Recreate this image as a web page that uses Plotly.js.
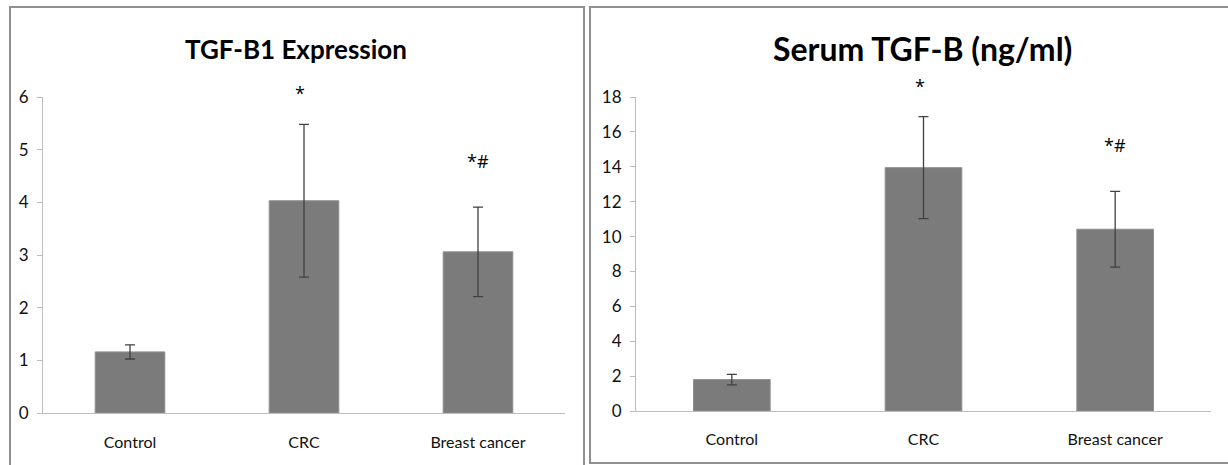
<!DOCTYPE html>
<html>
<head>
<meta charset="utf-8">
<script src="https://cdn.plot.ly/plotly-3.0.1.min.js"></script>
<style>
html,body{margin:0;padding:0;background:#fff;}
#chart{width:1228px;height:465px;}
</style>
</head>
<body>
<div id="chart"></div>
<script>
// ---- data ----
const categories = ['Control', 'CRC', 'Breast cancer'];
const tgfB1Means = [1.16, 4.03, 3.06];
const tgfB1Errors = [0.135, 1.45, 0.85];
const serumMeans = [1.8, 13.95, 10.42];
const serumErrors = [0.3, 2.92, 2.17];
const significance = ['', '*', '*#'];
const tgfB1Ticks = [0, 1, 2, 3, 4, 5, 6];
const serumTicks = [0, 2, 4, 6, 8, 10, 12, 14, 16, 18];
const titles = ['TGF-B1 Expression', 'Serum TGF-B (ng/ml)'];

// ---- layout helpers ----
const W = 1228, H = 465;
const px = x => x / W;
const py = y => (H - y) / H;
const FONT = 'Lato, "Open Sans", Arial, sans-serif';
const SIGFONT = '"Open Sans", Arial, sans-serif';
const barColor = '#7b7b7b';
const errColor = '#404040';
const textColor = '#111';

function barTrace(means, errs, xa, ya) {
  return {
    type: 'bar', x: categories, y: means, xaxis: xa, yaxis: ya,
    marker: {color: barColor, line: {color: '#8e8e8e', width: 1}},
    error_y: {type: 'data', array: errs, visible: true, color: errColor, thickness: 1.3, width: 5},
    hoverinfo: 'skip', showlegend: false
  };
}

const data = [
  barTrace(tgfB1Means, tgfB1Errors, 'x', 'y'),
  barTrace(serumMeans, serumErrors, 'x2', 'y2')
];

function sigAnnotations(means, errs, xref, yref) {
  const out = [];
  significance.forEach((s, i) => {
    if (!s) return;
    out.push({
      xref: xref, yref: yref, x: categories[i], y: means[i] + errs[i],
      text: s, showarrow: false, yanchor: 'middle',
      yshift: s === '*' ? 31 : 46, xshift: s === '*' ? -4 : 0,
      font: {family: SIGFONT, size: 18, color: '#000'}
    });
  });
  return out;
}

const axisCommon = {
  showgrid: false, zeroline: false, showline: true, linecolor: '#bdbdbd', linewidth: 1,
  fixedrange: true
};

const xTickFont = {family: FONT, size: 16, color: textColor};
const yTickFont = {family: FONT, size: 17, color: textColor};

const layout = {
  width: W, height: H,
  margin: {l: 0, r: 0, t: 0, b: 0},
  paper_bgcolor: '#fff', plot_bgcolor: 'rgba(0,0,0,0)',
  bargap: 0.6,
  font: {family: FONT, color: textColor},
  xaxis: Object.assign({}, axisCommon, {
    domain: [px(43), px(565)], anchor: 'y', ticks: '',
    tickfont: xTickFont, ticklabelstandoff: 15
  }),
  yaxis: Object.assign({}, axisCommon, {
    domain: [py(413), py(97)], anchor: 'x', range: [0, 6],
    tickvals: tgfB1Ticks, ticks: 'outside', ticklen: 5, tickcolor: '#bdbdbd',
    tickfont: yTickFont, ticklabelstandoff: 5
  }),
  xaxis2: Object.assign({}, axisCommon, {
    domain: [px(636), px(1211)], anchor: 'y2', ticks: '',
    tickfont: xTickFont, ticklabelstandoff: 14
  }),
  yaxis2: Object.assign({}, axisCommon, {
    domain: [py(411), py(97)], anchor: 'x2', range: [0, 18],
    tickvals: serumTicks, ticks: 'outside', ticklen: 5, tickcolor: '#bdbdbd',
    tickfont: yTickFont, ticklabelstandoff: 5
  }),
  shapes: [
    {type: 'rect', xref: 'paper', yref: 'paper', x0: px(10), x1: px(584), y0: py(475), y1: py(7),
     line: {color: '#8f8f8f', width: 2}},
    {type: 'rect', xref: 'paper', yref: 'paper', x0: px(590), x1: px(1238), y0: py(463), y1: py(7),
     line: {color: '#8f8f8f', width: 2}}
  ],
  annotations: [
    {xref: 'paper', yref: 'paper', x: px(296), y: py(49), text: '<b>' + titles[0] + '</b>',
     showarrow: false, xanchor: 'center', yanchor: 'middle',
     font: {family: FONT, size: 26, color: '#000'}},
    {xref: 'paper', yref: 'paper', x: px(922), y: py(49), text: '<b>' + titles[1] + '</b>',
     showarrow: false, xanchor: 'center', yanchor: 'middle',
     font: {family: FONT, size: 32, color: '#000'}}
  ].concat(sigAnnotations(tgfB1Means, tgfB1Errors, 'x', 'y'))
   .concat(sigAnnotations(serumMeans, serumErrors, 'x2', 'y2'))
};

Plotly.newPlot('chart', data, layout, {displayModeBar: false, staticPlot: true});
</script>
</body>
</html>
